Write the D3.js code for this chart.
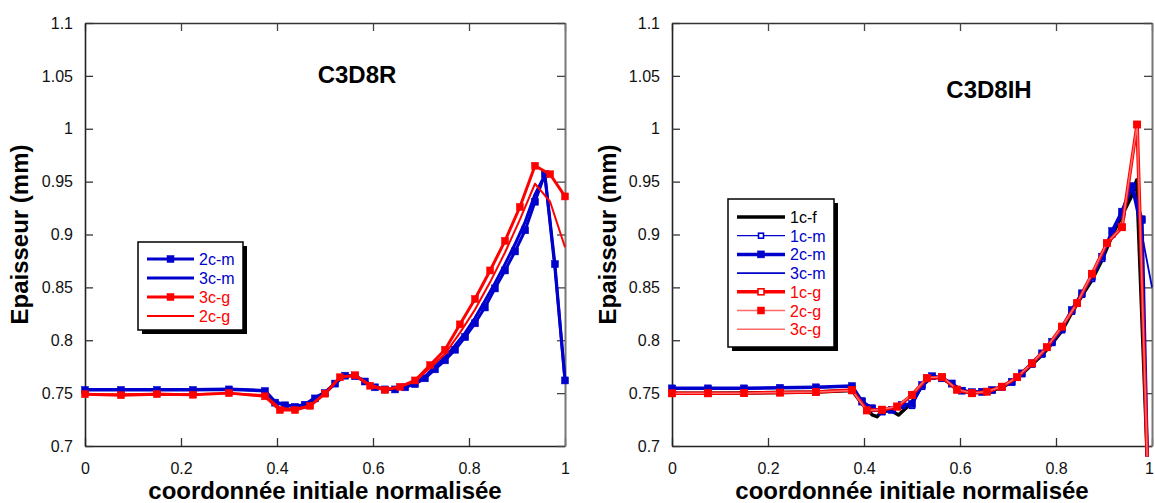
<!DOCTYPE html>
<html><head><meta charset="utf-8">
<script src="https://cdn.jsdelivr.net/npm/d3@7"></script>
<style>
html,body{margin:0;padding:0;background:#fff;}
text{font-family:"Liberation Sans",Arial,Helvetica,sans-serif;}
</style></head>
<body><svg id="chart" width="1155" height="503"></svg>
<script>
// ---------- data ----------
const xTicks = [0, 0.2, 0.4, 0.6, 0.8, 1];
const xTickLabels = ["0", "0.2", "0.4", "0.6", "0.8", "1"];
const yTicks = [0.7, 0.75, 0.8, 0.85, 0.9, 0.95, 1, 1.05, 1.1];
const yTickLabels = ["0.7", "0.75", "0.8", "0.85", "0.9", "0.95", "1", "1.05", "1.1"];
const panelTitles = ["C3D8R", "C3D8IH"];
const xLabel = "coordonnée initiale normalisée";
const yLabel = "Epaisseur (mm)";

// abscissae (normalised initial coordinate)
const xFine = [0, 0.075, 0.15, 0.225, 0.3, 0.375, 0.396, 0.417, 0.4375, 0.458, 0.479, 0.5, 0.521, 0.542, 0.5625, 0.583, 0.604, 0.625, 0.646, 0.667, 0.6875, 0.708, 0.729, 0.75, 0.771, 0.792, 0.8125, 0.833, 0.854, 0.875, 0.896, 0.917, 0.9375, 0.958, 0.979, 1.0];
const xCoarse = [0, 0.075, 0.15, 0.225, 0.3, 0.375, 0.406, 0.4375, 0.469, 0.5, 0.531, 0.5625, 0.594, 0.625, 0.656, 0.6875, 0.719, 0.75, 0.781, 0.8125, 0.844, 0.875, 0.906, 0.9375, 0.969, 1.0];
const xFineEnd = [0, 0.075, 0.15, 0.225, 0.3, 0.375, 0.396, 0.417, 0.4375, 0.458, 0.479, 0.5, 0.521, 0.542, 0.5625, 0.583, 0.604, 0.625, 0.646, 0.667, 0.6875, 0.708, 0.729, 0.75, 0.771, 0.792, 0.8125, 0.833, 0.854, 0.875, 0.896, 0.917, 0.9375, 0.958, 0.979, 0.99];
const xCoarseEnd = [0, 0.075, 0.15, 0.225, 0.3, 0.375, 0.406, 0.4375, 0.469, 0.5, 0.531, 0.5625, 0.594, 0.625, 0.656, 0.6875, 0.719, 0.75, 0.781, 0.8125, 0.844, 0.875, 0.906, 0.9375, 0.969, 0.99];
const x1cf = [0, 0.075, 0.15, 0.225, 0.3, 0.375, 0.396, 0.417, 0.427, 0.4375, 0.458, 0.472, 0.49, 0.5, 0.521, 0.542, 0.5625, 0.583, 0.604, 0.625, 0.646, 0.667, 0.6875, 0.708, 0.729, 0.75, 0.771, 0.792, 0.8125, 0.833, 0.854, 0.875, 0.896, 0.917, 0.9375, 0.958, 0.968, 0.99];

// C3D8R panel
const r_2cm = [0.753, 0.753, 0.753, 0.753, 0.7535, 0.752, 0.741, 0.7385, 0.737, 0.739, 0.745, 0.750, 0.759, 0.7665, 0.766, 0.761, 0.7555, 0.7535, 0.7535, 0.7555, 0.7585, 0.764, 0.7725, 0.781, 0.791, 0.803, 0.816, 0.831, 0.849, 0.866, 0.884, 0.904, 0.931, 0.957, 0.872, 0.762];
const r_3cm = [0.7535, 0.7535, 0.7535, 0.7535, 0.754, 0.7525, 0.742, 0.739, 0.7375, 0.7395, 0.7455, 0.751, 0.7595, 0.767, 0.7665, 0.7615, 0.756, 0.754, 0.754, 0.756, 0.7595, 0.7655, 0.775, 0.784, 0.795, 0.807, 0.821, 0.837, 0.854, 0.872, 0.891, 0.912, 0.938, 0.956, 0.868, 0.762];
const r_3cg = [0.749, 0.748, 0.749, 0.7485, 0.750, 0.747, 0.734, 0.734, 0.738, 0.7495, 0.765, 0.767, 0.757, 0.753, 0.756, 0.762, 0.7765, 0.791, 0.815, 0.839, 0.866, 0.894, 0.926, 0.965, 0.957, 0.936];
const r_2cg = [0.749, 0.749, 0.7495, 0.749, 0.750, 0.748, 0.736, 0.735, 0.738, 0.750, 0.765, 0.767, 0.758, 0.754, 0.756, 0.761, 0.774, 0.787, 0.807, 0.829, 0.855, 0.883, 0.914, 0.948, 0.931, 0.888];

// C3D8IH panel
const ih_1cf = [0.750, 0.750, 0.7502, 0.7505, 0.751, 0.7525, 0.740, 0.7295, 0.7277, 0.733, 0.733, 0.7293, 0.737, 0.742, 0.757, 0.7655, 0.764, 0.7585, 0.752, 0.7505, 0.751, 0.7525, 0.7555, 0.7605, 0.768, 0.777, 0.786, 0.797, 0.809, 0.826, 0.842, 0.857, 0.876, 0.899, 0.918, 0.937, 0.9515, 0.69];
const ih_1cm = [0.754, 0.754, 0.754, 0.7545, 0.755, 0.756, 0.743, 0.736, 0.733, 0.7345, 0.738, 0.738, 0.756, 0.7655, 0.7645, 0.7595, 0.7525, 0.7505, 0.751, 0.7525, 0.7555, 0.760, 0.768, 0.777, 0.7865, 0.7975, 0.8095, 0.827, 0.843, 0.858, 0.877, 0.900, 0.919, 0.943, 0.915, 0.69];
const ih_2cm = [0.7545, 0.7545, 0.7545, 0.755, 0.7555, 0.7567, 0.742, 0.7356, 0.7325, 0.734, 0.7388, 0.7397, 0.7577, 0.766, 0.764, 0.759, 0.7523, 0.751, 0.7513, 0.753, 0.756, 0.7608, 0.7687, 0.7782, 0.7876, 0.7986, 0.811, 0.8286, 0.8444, 0.860, 0.879, 0.9033, 0.9216, 0.9459, 0.9137, 0.69];
const ih_3cm = [0.7545, 0.7545, 0.7545, 0.755, 0.7555, 0.7565, 0.7425, 0.736, 0.733, 0.7345, 0.739, 0.740, 0.757, 0.7655, 0.764, 0.759, 0.7525, 0.751, 0.7515, 0.753, 0.756, 0.761, 0.769, 0.778, 0.788, 0.799, 0.8115, 0.829, 0.845, 0.861, 0.880, 0.903, 0.922, 0.944, 0.900, 0.85];
const ih_1cg = [0.7498, 0.7498, 0.750, 0.7505, 0.751, 0.753, 0.734, 0.734, 0.737, 0.7482, 0.764, 0.765, 0.753, 0.7498, 0.7513, 0.756, 0.765, 0.778, 0.7933, 0.8128, 0.835, 0.8627, 0.8917, 0.9068, 1.004, 0.69];
const ih_2cg = [0.7498, 0.7498, 0.750, 0.7505, 0.751, 0.7525, 0.7335, 0.7345, 0.7375, 0.7485, 0.7645, 0.7655, 0.7535, 0.750, 0.7515, 0.7562, 0.7652, 0.7782, 0.7935, 0.813, 0.8352, 0.863, 0.892, 0.907, 1.004, 0.69];
const ih_3cg = [0.7498, 0.7498, 0.750, 0.7505, 0.751, 0.7525, 0.734, 0.7345, 0.738, 0.749, 0.765, 0.7655, 0.7535, 0.750, 0.7515, 0.756, 0.765, 0.778, 0.793, 0.8125, 0.835, 0.8625, 0.8915, 0.907, 1.0, 0.69];

// ---------- drawing ----------
const BLUE = "#0000cc", RED = "#ff0000", PINK = "#ff6a6a";
const svg = d3.select("#chart");
const plotTop = 23, plotBottom = 446;

const panels = [
  {
    id: "p0", left: 85, right: 565, title: panelTitles[0], titleX: 357, titleY: 83, ylabX: 28,
    series: [
      {name: "2c-m", xs: xFine, ys: r_2cm, color: BLUE, width: 3, marker: "fill", msize: 7, textColor: BLUE},
      {name: "3c-m", xs: xFine, ys: r_3cm, color: BLUE, width: 3, marker: null, textColor: BLUE},
      {name: "3c-g", xs: xCoarse, ys: r_3cg, color: RED, width: 3, marker: "fill", msize: 7, textColor: RED},
      {name: "2c-g", xs: xCoarse, ys: r_2cg, color: RED, width: 2, marker: null, textColor: RED}
    ],
    drawOrder: [1, 0, 3, 2],
    legend: {x: 138, y: 242, w: 105, h: 88, rowY: 17, rowH: 19, lineX0: 9, lineX1: 56, textX: 61}
  },
  {
    id: "p1", left: 672, right: 1152, title: panelTitles[1], titleX: 989, titleY: 98, ylabX: 616,
    series: [
      {name: "1c-f", xs: x1cf, ys: ih_1cf, color: "#000", width: 3.5, marker: null, textColor: "#000"},
      {name: "1c-m", xs: xFineEnd, ys: ih_1cm, color: BLUE, width: 1.3, marker: "hollow", msize: 5, textColor: BLUE},
      {name: "2c-m", xs: xFineEnd, ys: ih_2cm, color: BLUE, width: 3.5, marker: "fill", msize: 7, textColor: BLUE},
      {name: "3c-m", xs: xFine, ys: ih_3cm, color: BLUE, width: 1.8, marker: null, textColor: BLUE},
      {name: "1c-g", xs: xCoarseEnd, ys: ih_1cg, color: RED, width: 3.5, marker: "hollow", msize: 6, textColor: RED},
      {name: "2c-g", xs: xCoarseEnd, ys: ih_2cg, color: PINK, width: 1.5, marker: "fillRed", msize: 7, textColor: RED},
      {name: "3c-g", xs: xCoarseEnd, ys: ih_3cg, color: PINK, width: 1.5, marker: null, textColor: RED}
    ],
    drawOrder: [0, 3, 1, 2, 6, 4, 5],
    legend: {x: 728, y: 199, w: 106, h: 148, rowY: 18, rowH: 18.7, lineX0: 9, lineX1: 57, textX: 62}
  }
];

const defs = svg.append("defs");

panels.forEach(p => {
  const x = d3.scaleLinear().domain([0, 1]).range([p.left, p.right]);
  const y = d3.scaleLinear().domain([0.7, 1.1]).range([plotBottom, plotTop]);
  const g = svg.append("g");

  defs.append("clipPath").attr("id", "clip-" + p.id).append("rect")
    .attr("x", p.left - 5).attr("y", plotTop).attr("width", p.right - p.left + 10).attr("height", plotBottom - plotTop + 1);

  // axes
  const fmtX = d => xTickLabels[xTicks.indexOf(d)];
  const fmtY = d => yTickLabels[yTicks.indexOf(d)];
  const axB = g.append("g").attr("transform", `translate(0,${plotBottom})`)
    .call(d3.axisBottom(x).tickValues(xTicks).tickFormat(fmtX).tickSize(-8).tickSizeOuter(0).tickPadding(17));
  const axT = g.append("g").attr("transform", `translate(0,${plotTop})`)
    .call(d3.axisTop(x).tickValues(xTicks).tickFormat("").tickSize(-8).tickSizeOuter(0));
  const axL = g.append("g").attr("transform", `translate(${p.left},0)`)
    .call(d3.axisLeft(y).tickValues(yTicks).tickFormat(fmtY).tickSize(-8).tickSizeOuter(0).tickPadding(12));
  const axR = g.append("g").attr("transform", `translate(${p.right},0)`)
    .call(d3.axisRight(y).tickValues(yTicks).tickFormat("").tickSize(-8).tickSizeOuter(0));
  [axB, axL].forEach(a => {
    a.select(".domain").attr("stroke", "#222").attr("stroke-width", 1.6);
    a.selectAll(".tick line").attr("stroke", "#333").attr("stroke-width", 1.3);
    a.selectAll(".tick text").attr("font-size", 16).attr("fill", "#111")
      .style("font-family", '"Liberation Sans", Arial, sans-serif');
  });
  // keep the last x label inside the picture on the right panel
  if (p.id === "p1") {
    axB.selectAll(".tick text").filter(d => d === 1).attr("dx", -3);
  }
  axT.select(".domain").attr("stroke", "#333").attr("stroke-width", 1.5);
  axR.select(".domain").attr("stroke", "#777").attr("stroke-width", 2);
  [axT, axR].forEach(a => a.selectAll(".tick line").attr("stroke", "#444").attr("stroke-width", 1.3));

  // title
  g.append("text").attr("x", p.titleX).attr("y", p.titleY).attr("text-anchor", "middle")
    .attr("font-size", 24).attr("font-weight", "bold").attr("fill", "#000").text(p.title);
  // axis labels
  g.append("text").attr("x", (p.left + p.right) / 2).attr("y", 499).attr("text-anchor", "middle")
    .attr("font-size", 24).attr("font-weight", "bold").attr("fill", "#000").text(xLabel);
  g.append("text").attr("transform", `translate(${p.ylabX},${(plotTop + plotBottom) / 2}) rotate(-90)`)
    .attr("text-anchor", "middle").attr("font-size", 24).attr("font-weight", "bold").attr("fill", "#000").text(yLabel);

  // series
  const line = d3.line().x(d => x(d[0])).y(d => y(d[1]));
  p.drawOrder.forEach(i => {
    const s = p.series[i];
    const pts = s.xs.map((xv, k) => [xv, s.ys[k]]);
    g.append("path").datum(pts).attr("d", line).attr("fill", "none")
      .attr("stroke", s.color).attr("stroke-width", s.width).attr("stroke-linejoin", "round");
    if (s.marker) {
      const m = s.msize;
      g.append("g").attr("clip-path", `url(#clip-${p.id})`)
        .selectAll("rect").data(pts).enter().append("rect")
        .attr("x", d => x(d[0]) - m / 2).attr("y", d => y(d[1]) - m / 2)
        .attr("width", m).attr("height", m)
        .attr("fill", s.marker === "hollow" ? "#fff" : (s.marker === "fillRed" ? RED : s.color))
        .attr("stroke", s.marker === "fillRed" ? RED : s.color)
        .attr("stroke-width", s.marker === "hollow" ? 1.6 : 0.5);
    }
  });

  // legend
  const L = p.legend;
  const lg = g.append("g").attr("transform", `translate(${L.x},${L.y})`);
  lg.append("rect").attr("x", 4).attr("y", 4).attr("width", L.w).attr("height", L.h).attr("fill", "#000");
  lg.append("rect").attr("x", 0).attr("y", 0).attr("width", L.w).attr("height", L.h)
    .attr("fill", "#fff").attr("stroke", "#000").attr("stroke-width", 1.5);
  p.series.forEach((s, i) => {
    const yy = L.rowY + i * L.rowH;
    lg.append("line").attr("x1", L.lineX0).attr("x2", L.lineX1).attr("y1", yy).attr("y2", yy)
      .attr("stroke", s.color).attr("stroke-width", s.width);
    if (s.marker) {
      const m = s.msize, cx = (L.lineX0 + L.lineX1) / 2;
      lg.append("rect").attr("x", cx - m / 2).attr("y", yy - m / 2).attr("width", m).attr("height", m)
        .attr("fill", s.marker === "hollow" ? "#fff" : (s.marker === "fillRed" ? RED : s.color))
        .attr("stroke", s.marker === "fillRed" ? RED : s.color)
        .attr("stroke-width", s.marker === "hollow" ? 1.6 : 0.5);
    }
    lg.append("text").attr("x", L.textX).attr("y", yy + 6).attr("font-size", 16)
      .attr("fill", s.textColor).text(s.name);
  });
});
</script>
</body></html>
